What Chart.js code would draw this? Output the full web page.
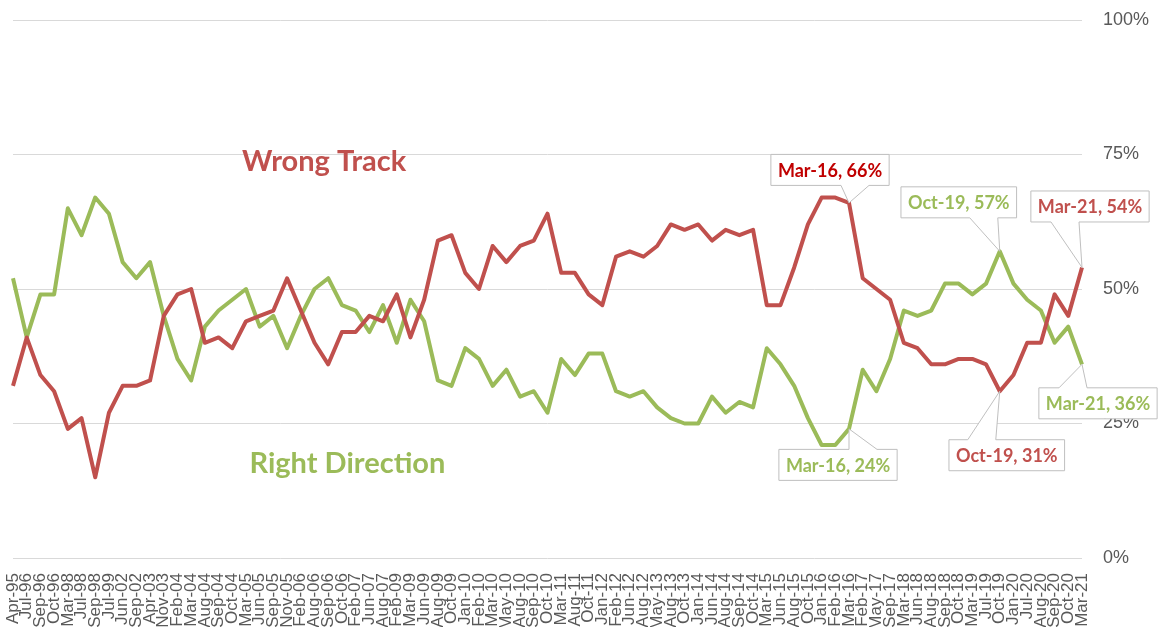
<!DOCTYPE html>
<html>
<head>
<meta charset="utf-8">
<script src="https://cdn.jsdelivr.net/npm/chart.js@4"></script>
<style>
  html, body { margin: 0; padding: 0; background: #fff; overflow: hidden; }
  canvas { display: block; }
</style>
</head>
<body>
<canvas id="grafico" width="1161" height="627"></canvas>
<script>
// Datas das pesquisas (eixo X)
const datas = ['Apr-95','Jul-96','Sep-96','Oct-96','Mar-98','Jul-98','Sep-98','Jul-99','Jun-02','Sep-02',
  'Apr-03','Nov-03','Feb-04','Mar-04','Aug-04','Sep-04','Oct-04','Mar-05','Jun-05','Sep-05',
  'Nov-05','Feb-06','Aug-06','Sep-06','Oct-06','Feb-07','Jun-07','Aug-07','Feb-09','Mar-09',
  'Jun-09','Aug-09','Oct-09','Jan-10','Feb-10','Mar-10','May-10','Aug-10','Sep-10','Oct-10',
  'Mar-11','Aug-11','Oct-11','Jan-12','Feb-12','Jun-12','Aug-12','May-13','Aug-13','Oct-13',
  'Jan-14','Jun-14','Aug-14','Sep-14','Oct-14','Mar-15','Jun-15','Aug-15','Oct-15','Jan-16',
  'Feb-16','Mar-16','Feb-17','May-17','Sep-17','Mar-18','Jun-18','Aug-18','Sep-18','Oct-18',
  'Mar-19','Jul-19','Oct-19','Jan-20','Jul-20','Aug-20','Sep-20','Oct-20','Mar-21'];

// Right Direction (%)
const rightDirection = [52, 41, 49, 49, 65, 60, 67, 64, 55, 52,
  55, 45, 37, 33, 43, 46, 48, 50, 43, 45,
  39, 45, 50, 52, 47, 46, 42, 47, 40, 48,
  44, 33, 32, 39, 37, 32, 35, 30, 31, 27,
  37, 34, 38, 38, 31, 30, 31, 28, 26, 25,
  25, 30, 27, 29, 28, 39, 36, 32, 26, 21,
  21, 24, 35, 31, 37, 46, 45, 46, 51, 51,
  49, 51, 57, 51, 48, 46, 40, 43, 36];

// Wrong Track (%)
const wrongTrack = [32, 41, 34, 31, 24, 26, 15, 27, 32, 32,
  33, 45, 49, 50, 40, 41, 39, 44, 45, 46,
  52, 46, 40, 36, 42, 42, 45, 44, 49, 41,
  48, 59, 60, 53, 50, 58, 55, 58, 59, 64,
  53, 53, 49, 47, 56, 57, 56, 58, 62, 61,
  62, 59, 61, 60, 61, 47, 47, 54, 62, 67,
  67, 66, 52, 50, 48, 40, 39, 36, 36, 37,
  37, 36, 31, 34, 40, 40, 49, 45, 54];

// Ticks do eixo Y
const ticksY = [0, 25, 50, 75, 100];

const VERMELHO = '#c0504d';
const VERDE = '#9bbb59';

// Caixas de rótulo (ds 0 = Wrong Track, ds 1 = Right Direction)
const chamadas = [
  { ds: 0, idx: 61, dx: -19, dy: -33, cor: '#c00000' },
  { ds: 1, idx: 61, dx: -11, dy: 36, cor: VERDE },
  { ds: 1, idx: 72, dx: -41, dy: -49, cor: VERDE },
  { ds: 0, idx: 72, dx: 7, dy: 64, cor: VERMELHO },
  { ds: 0, idx: 78, dx: 8, dy: -61, cor: VERMELHO },
  { ds: 1, idx: 78, dx: 16, dy: 39, cor: VERDE }
];

// Títulos das séries dentro do gráfico (posição em índice / valor)
const titulos = [
  { texto: 'Wrong Track', x: 22.7, y: 73.6, cor: VERMELHO },
  { texto: 'Right Direction', x: 24.4, y: 17.6, cor: VERDE }
];

const pluginRotulos = {
  id: 'rotulos',
  afterDatasetsDraw(chart) {
    const ctx = chart.ctx;
    const xs = chart.scales.x, ys = chart.scales.y;
    const series = [wrongTrack, rightDirection];

    ctx.save();
    ctx.textAlign = 'center';
    ctx.textBaseline = 'middle';

    // títulos grandes
    ctx.font = "bold 29px Lato, 'Open Sans', sans-serif";
    titulos.forEach(t => {
      ctx.fillStyle = t.cor;
      ctx.fillText(t.texto, xs.getPixelForValue(t.x), ys.getPixelForValue(t.y));
    });

    // chamadas com caixa e ponteiro
    ctx.font = "bold 18px Lato, 'Open Sans', sans-serif";
    chamadas.forEach(c => {
      const pt = chart.getDatasetMeta(c.ds).data[c.idx];
      const px = pt.x, py = pt.y;
      const texto = datas[c.idx] + ', ' + series[c.ds][c.idx] + '%';
      const w = ctx.measureText(texto).width + 14;
      const h = 31;
      const cx = px + c.dx, cy = py + c.dy;
      const l = cx - w / 2, r = cx + w / 2, t = cy - h / 2, b = cy + h / 2;
      const base = cx + (px > cx ? 1 : -1) * 25;
      const b1 = base - 14, b2 = base + 14;

      ctx.beginPath();
      if (py < t) {
        ctx.moveTo(l, t);
        ctx.lineTo(b1, t);
        ctx.lineTo(px, py);
        ctx.lineTo(b2, t);
        ctx.lineTo(r, t);
        ctx.lineTo(r, b);
        ctx.lineTo(l, b);
      } else {
        ctx.moveTo(l, t);
        ctx.lineTo(r, t);
        ctx.lineTo(r, b);
        ctx.lineTo(b2, b);
        ctx.lineTo(px, py);
        ctx.lineTo(b1, b);
        ctx.lineTo(l, b);
      }
      ctx.closePath();
      ctx.fillStyle = '#ffffff';
      ctx.fill();
      ctx.strokeStyle = '#bfbfbf';
      ctx.lineWidth = 1;
      ctx.stroke();

      ctx.fillStyle = c.cor;
      ctx.fillText(texto, cx, cy + 1);
    });
    ctx.restore();
  }
};

Chart.defaults.font.family = "'Liberation Sans', Arial, sans-serif";
Chart.defaults.color = '#595959';

new Chart(document.getElementById('grafico').getContext('2d'), {
  type: 'line',
  data: {
    labels: datas,
    datasets: [
      {
        label: 'Wrong Track',
        data: wrongTrack,
        borderColor: VERMELHO,
        borderWidth: 4,
        pointRadius: 0,
        tension: 0,
        borderJoinStyle: 'round',
        fill: false
      },
      {
        label: 'Right Direction',
        data: rightDirection,
        borderColor: VERDE,
        borderWidth: 4,
        pointRadius: 0,
        tension: 0,
        borderJoinStyle: 'round',
        fill: false
      }
    ]
  },
  options: {
    responsive: false,
    animation: false,
    devicePixelRatio: 1,
    layout: { padding: { left: 13, top: 20, right: 0, bottom: 0 } },
    plugins: {
      legend: { display: false },
      title: { display: false },
      tooltip: { enabled: false }
    },
    scales: {
      x: {
        offset: false,
        grid: { display: false, drawTicks: false },
        border: { display: false },
        ticks: {
          autoSkip: false,
          minRotation: 90,
          maxRotation: 90,
          padding: 15,
          font: { size: 17 },
          color: '#595959'
        },
        afterFit(scale) {
          scale.height = 69;
          scale.paddingLeft = 0;
          scale.paddingRight = 0;
        }
      },
      y: {
        position: 'right',
        min: 0,
        max: 100,
        afterBuildTicks(scale) { scale.ticks = ticksY.map(v => ({ value: v })); },
        grid: { color: '#d9d9d9', lineWidth: 1, drawTicks: false },
        border: { display: false },
        ticks: {
          padding: 21,
          font: { size: 18 },
          color: '#595959',
          callback: v => v + '%'
        },
        afterFit(scale) {
          scale.width = 79;
          scale.paddingTop = 0;
          scale.paddingBottom = 0;
        }
      }
    }
  },
  plugins: [pluginRotulos]
});
</script>
</body>
</html>
